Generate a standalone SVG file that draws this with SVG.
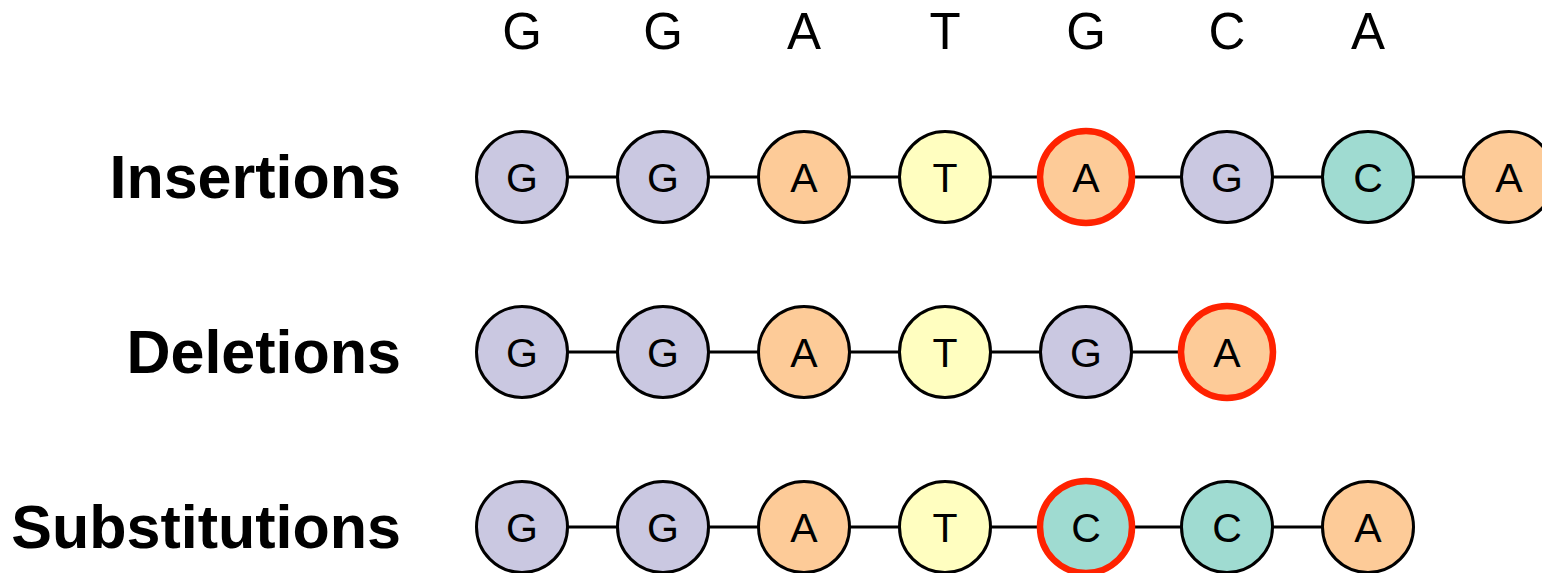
<svg xmlns="http://www.w3.org/2000/svg" width="1542" height="573" viewBox="0 0 1542 573">
<style>
.lab{font-family:"Liberation Sans",Arial,sans-serif;font-weight:bold;font-size:61px;text-anchor:end;fill:#000}
.top{font-family:"Liberation Sans",Arial,sans-serif;font-size:51px;text-anchor:middle;fill:#000}
.nt{font-family:"Liberation Sans",Arial,sans-serif;font-size:41px;text-anchor:middle;fill:#000}
circle{stroke:#000;stroke-width:3}
circle.mut{stroke:#FF2200;stroke-width:6.5}
.G{fill:#CAC8E1}.A{fill:#FDCB98}.T{fill:#FFFEC0}.C{fill:#9FDBD1}
.edge{stroke:#000;stroke-width:3}
</style>
<g id="reference">
<text class="top" x="522" y="49">G</text>
<text class="top" x="663" y="49">G</text>
<text class="top" x="804" y="49">A</text>
<text class="top" x="945" y="49">T</text>
<text class="top" x="1086" y="49">G</text>
<text class="top" x="1227" y="49">C</text>
<text class="top" x="1368" y="49">A</text>
</g>
<g id="labels">
<text class="lab" x="401" y="198">Insertions</text>
<text class="lab" x="401" y="373">Deletions</text>
<text class="lab" x="401" y="548">Substitutions</text>
</g>
<g id="connectors">
<line class="edge" x1="522" y1="177" x2="1509" y2="177"/>
<line class="edge" x1="522" y1="352" x2="1227" y2="352"/>
<line class="edge" x1="522" y1="527" x2="1368" y2="527"/>
</g>
<g id="ins1"><circle class="G" cx="522" cy="177" r="45.5"/><text class="nt" x="522" y="192">G</text></g>
<g id="ins2"><circle class="G" cx="663" cy="177" r="45.5"/><text class="nt" x="663" y="192">G</text></g>
<g id="ins3"><circle class="A" cx="804" cy="177" r="45.5"/><text class="nt" x="804" y="192">A</text></g>
<g id="ins4"><circle class="T" cx="945" cy="177" r="45.5"/><text class="nt" x="945" y="192">T</text></g>
<g id="ins5"><circle class="A mut" cx="1086" cy="177" r="46"/><text class="nt" x="1086" y="192">A</text></g>
<g id="ins6"><circle class="G" cx="1227" cy="177" r="45.5"/><text class="nt" x="1227" y="192">G</text></g>
<g id="ins7"><circle class="C" cx="1368" cy="177" r="45.5"/><text class="nt" x="1368" y="192">C</text></g>
<g id="ins8"><circle class="A" cx="1509" cy="177" r="45.5"/><text class="nt" x="1509" y="192">A</text></g>
<g id="del1"><circle class="G" cx="522" cy="352" r="45.5"/><text class="nt" x="522" y="367">G</text></g>
<g id="del2"><circle class="G" cx="663" cy="352" r="45.5"/><text class="nt" x="663" y="367">G</text></g>
<g id="del3"><circle class="A" cx="804" cy="352" r="45.5"/><text class="nt" x="804" y="367">A</text></g>
<g id="del4"><circle class="T" cx="945" cy="352" r="45.5"/><text class="nt" x="945" y="367">T</text></g>
<g id="del5"><circle class="G" cx="1086" cy="352" r="45.5"/><text class="nt" x="1086" y="367">G</text></g>
<g id="del6"><circle class="A mut" cx="1227" cy="352" r="46"/><text class="nt" x="1227" y="367">A</text></g>
<g id="sub1"><circle class="G" cx="522" cy="527" r="45.5"/><text class="nt" x="522" y="542">G</text></g>
<g id="sub2"><circle class="G" cx="663" cy="527" r="45.5"/><text class="nt" x="663" y="542">G</text></g>
<g id="sub3"><circle class="A" cx="804" cy="527" r="45.5"/><text class="nt" x="804" y="542">A</text></g>
<g id="sub4"><circle class="T" cx="945" cy="527" r="45.5"/><text class="nt" x="945" y="542">T</text></g>
<g id="sub5"><circle class="C mut" cx="1086" cy="527" r="46"/><text class="nt" x="1086" y="542">C</text></g>
<g id="sub6"><circle class="C" cx="1227" cy="527" r="45.5"/><text class="nt" x="1227" y="542">C</text></g>
<g id="sub7"><circle class="A" cx="1368" cy="527" r="45.5"/><text class="nt" x="1368" y="542">A</text></g>
</svg>
